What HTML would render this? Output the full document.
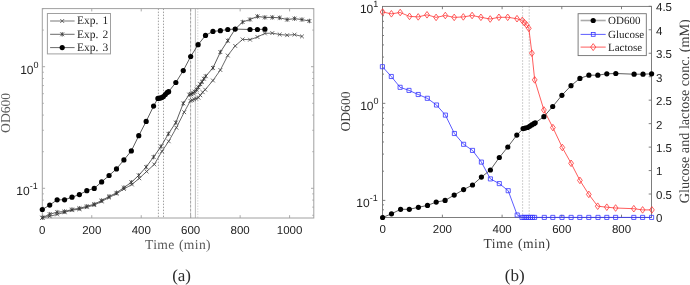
<!DOCTYPE html>
<html><head><meta charset="utf-8"><style>
html,body{margin:0;padding:0;background:#fff;}
body{width:690px;height:285px;overflow:hidden;}
svg{display:block;filter:blur(0.35px);}
text{text-rendering:geometricPrecision;}
.tl{font-family:"Liberation Sans",sans-serif;font-size:11.5px;fill:#222;}
.lab{font-family:"Liberation Serif",serif;font-size:13.6px;fill:#505050;}
.cap{font-family:"Liberation Serif",serif;font-size:17px;fill:#2a2a2a;}
</style></head><body>
<svg width="690" height="285" viewBox="0 0 690 285">
<rect width="690" height="285" fill="#fff"/>
<line x1="158.4" y1="8.6" x2="158.4" y2="218.0" stroke="#8a8a8a" stroke-width="0.8" stroke-dasharray="1.5,1.5"/>
<line x1="163.5" y1="8.6" x2="163.5" y2="218.0" stroke="#8a8a8a" stroke-width="0.8" stroke-dasharray="1.5,1.5"/>
<line x1="190.6" y1="8.6" x2="190.6" y2="218.0" stroke="#8a8a8a" stroke-width="0.8" stroke-dasharray="3,1"/>
<line x1="195.4" y1="8.6" x2="195.4" y2="218.0" stroke="#aaa" stroke-width="0.8" stroke-dasharray="none"/>
<line x1="197.8" y1="8.6" x2="197.8" y2="218.0" stroke="#c0c0c0" stroke-width="0.8" stroke-dasharray="1.2,1.5"/>
<path d="M91.76,218.0v-2.8M91.76,8.6v2.8M141.22,218.0v-2.8M141.22,8.6v2.8M190.68,218.0v-2.8M190.68,8.6v2.8M240.14,218.0v-2.8M240.14,8.6v2.8M289.60,218.0v-2.8M289.60,8.6v2.8M42.3,215.28h1.5M313.8,215.28h-1.5M42.3,207.14h1.5M313.8,207.14h-1.5M42.3,200.08h1.5M313.8,200.08h-1.5M42.3,193.86h1.5M313.8,193.86h-1.5M42.3,188.30h2.8M313.8,188.30h-2.8M42.3,151.69h1.5M313.8,151.69h-1.5M42.3,130.28h1.5M313.8,130.28h-1.5M42.3,115.09h1.5M313.8,115.09h-1.5M42.3,103.31h1.5M313.8,103.31h-1.5M42.3,93.68h1.5M313.8,93.68h-1.5M42.3,85.54h1.5M313.8,85.54h-1.5M42.3,78.48h1.5M313.8,78.48h-1.5M42.3,72.26h1.5M313.8,72.26h-1.5M42.3,66.70h2.8M313.8,66.70h-2.8M42.3,30.09h1.5M313.8,30.09h-1.5M42.3,8.68h1.5M313.8,8.68h-1.5" stroke="#a0a0a0" stroke-width="0.9" fill="none"/>
<rect x="42.3" y="8.6" width="271.50" height="209.40" fill="none" stroke="#a0a0a0" stroke-width="1"/>
<polyline points="42.30,217.70 49.72,216.30 57.14,214.40 64.56,212.30 71.98,210.20 79.39,209.20 86.81,207.20 94.23,205.10 101.65,201.50 109.07,197.50 116.49,193.80 123.91,189.00 131.90,184.50 139.30,178.30 146.60,171.50 154.30,164.40 162.00,151.30 168.70,141.30 176.40,127.70 184.20,112.20 190.40,100.80 192.30,100.20 194.10,99.30 196.00,98.60 198.40,97.70 200.30,95.30 202.70,92.20 205.20,89.70 212.94,80.50 220.36,70.00 227.77,55.50 235.19,45.90 242.61,39.40 250.03,39.70 257.45,37.00 264.87,33.40 272.29,33.10 279.71,34.50 287.13,35.20 294.55,34.60 301.96,36.40" fill="none" stroke="#444" stroke-width="0.8" stroke-linejoin="round" />
<polyline points="42.30,217.70 49.72,214.20 57.14,212.20 64.56,211.50 71.98,209.50 79.39,208.30 86.81,206.30 94.23,204.20 101.65,200.50 109.07,196.50 116.49,192.80 123.91,187.60 131.33,182.30 138.75,175.30 146.17,167.00 153.58,157.00 161.00,146.50 168.42,133.80 175.84,122.60 183.26,103.40 189.20,94.60 191.10,94.00 192.90,93.20 194.70,91.60 196.60,89.70 198.40,87.30 200.30,84.20 202.10,81.80 203.90,78.70 205.80,76.20 212.94,67.90 220.36,52.10 227.77,40.70 235.19,29.10 242.61,22.00 250.03,19.50 257.45,16.40 264.87,17.40 272.29,17.40 279.71,17.80 287.13,19.60 294.55,18.60 301.96,19.60 309.38,21.00" fill="none" stroke="#333" stroke-width="0.8" stroke-linejoin="round" />
<polyline points="42.30,209.50 49.72,205.10 57.14,199.80 64.56,199.80 71.98,197.20 79.39,194.60 86.81,190.70 94.23,188.40 101.65,181.90 109.07,175.50 116.49,168.90 123.91,159.90 131.33,150.90 138.75,135.70 146.17,121.40 153.58,106.10 157.90,98.40 159.70,98.20 161.60,97.60 163.40,96.60 165.30,94.50 167.10,92.60 168.60,91.70 175.84,82.50 183.26,70.60 190.68,56.50 198.10,44.70 205.52,35.40 212.94,31.40 220.36,30.70 227.77,29.50 235.19,29.10 250.03,29.50 257.45,29.50 264.87,29.20" fill="none" stroke="#333" stroke-width="0.8" stroke-linejoin="round" />
<path d="M40.40,215.80L44.20,219.60M40.40,219.60L44.20,215.80M47.82,214.40L51.62,218.20M47.82,218.20L51.62,214.40M55.24,212.50L59.04,216.30M55.24,216.30L59.04,212.50M62.66,210.40L66.46,214.20M62.66,214.20L66.46,210.40M70.08,208.30L73.88,212.10M70.08,212.10L73.88,208.30M77.49,207.30L81.30,211.10M77.49,211.10L81.30,207.30M84.91,205.30L88.71,209.10M84.91,209.10L88.71,205.30M92.33,203.20L96.13,207.00M92.33,207.00L96.13,203.20M99.75,199.60L103.55,203.40M99.75,203.40L103.55,199.60M107.17,195.60L110.97,199.40M107.17,199.40L110.97,195.60M114.59,191.90L118.39,195.70M114.59,195.70L118.39,191.90M122.01,187.10L125.81,190.90M122.01,190.90L125.81,187.10M130.00,182.60L133.80,186.40M130.00,186.40L133.80,182.60M137.40,176.40L141.20,180.20M137.40,180.20L141.20,176.40M144.70,169.60L148.50,173.40M144.70,173.40L148.50,169.60M152.40,162.50L156.20,166.30M152.40,166.30L156.20,162.50M160.10,149.40L163.90,153.20M160.10,153.20L163.90,149.40M166.80,139.40L170.60,143.20M166.80,143.20L170.60,139.40M174.50,125.80L178.30,129.60M174.50,129.60L178.30,125.80M182.30,110.30L186.10,114.10M182.30,114.10L186.10,110.30M188.50,98.90L192.30,102.70M188.50,102.70L192.30,98.90M190.40,98.30L194.20,102.10M190.40,102.10L194.20,98.30M192.20,97.40L196.00,101.20M192.20,101.20L196.00,97.40M194.10,96.70L197.90,100.50M194.10,100.50L197.90,96.70M196.50,95.80L200.30,99.60M196.50,99.60L200.30,95.80M198.40,93.40L202.20,97.20M198.40,97.20L202.20,93.40M200.80,90.30L204.60,94.10M200.80,94.10L204.60,90.30M203.30,87.80L207.10,91.60M203.30,91.60L207.10,87.80M211.04,78.60L214.84,82.40M211.04,82.40L214.84,78.60M218.46,68.10L222.26,71.90M218.46,71.90L222.26,68.10M225.87,53.60L229.67,57.40M225.87,57.40L229.67,53.60M233.29,44.00L237.09,47.80M233.29,47.80L237.09,44.00M240.71,37.50L244.51,41.30M240.71,41.30L244.51,37.50M248.13,37.80L251.93,41.60M248.13,41.60L251.93,37.80M255.55,35.10L259.35,38.90M255.55,38.90L259.35,35.10M262.97,31.50L266.77,35.30M262.97,35.30L266.77,31.50M270.39,31.20L274.19,35.00M270.39,35.00L274.19,31.20M277.81,32.60L281.61,36.40M277.81,36.40L281.61,32.60M285.23,33.30L289.03,37.10M285.23,37.10L289.03,33.30M292.65,32.70L296.45,36.50M292.65,36.50L296.45,32.70M300.06,34.50L303.86,38.30M300.06,38.30L303.86,34.50" stroke="#444" stroke-width="0.8" fill="none"/>
<path d="M40.40,215.80L44.20,219.60M40.40,219.60L44.20,215.80M42.30,215.42V219.98M47.82,212.30L51.62,216.10M47.82,216.10L51.62,212.30M49.72,211.92V216.48M55.24,210.30L59.04,214.10M55.24,214.10L59.04,210.30M57.14,209.92V214.48M62.66,209.60L66.46,213.40M62.66,213.40L66.46,209.60M64.56,209.22V213.78M70.08,207.60L73.88,211.40M70.08,211.40L73.88,207.60M71.98,207.22V211.78M77.49,206.40L81.30,210.20M77.49,210.20L81.30,206.40M79.39,206.02V210.58M84.91,204.40L88.71,208.20M84.91,208.20L88.71,204.40M86.81,204.02V208.58M92.33,202.30L96.13,206.10M92.33,206.10L96.13,202.30M94.23,201.92V206.48M99.75,198.60L103.55,202.40M99.75,202.40L103.55,198.60M101.65,198.22V202.78M107.17,194.60L110.97,198.40M107.17,198.40L110.97,194.60M109.07,194.22V198.78M114.59,190.90L118.39,194.70M114.59,194.70L118.39,190.90M116.49,190.52V195.08M122.01,185.70L125.81,189.50M122.01,189.50L125.81,185.70M123.91,185.32V189.88M129.43,180.40L133.23,184.20M129.43,184.20L133.23,180.40M131.33,180.02V184.58M136.85,173.40L140.65,177.20M136.85,177.20L140.65,173.40M138.75,173.02V177.58M144.27,165.10L148.07,168.90M144.27,168.90L148.07,165.10M146.17,164.72V169.28M151.68,155.10L155.48,158.90M151.68,158.90L155.48,155.10M153.58,154.72V159.28M159.10,144.60L162.90,148.40M159.10,148.40L162.90,144.60M161.00,144.22V148.78M166.52,131.90L170.32,135.70M166.52,135.70L170.32,131.90M168.42,131.52V136.08M173.94,120.70L177.74,124.50M173.94,124.50L177.74,120.70M175.84,120.32V124.88M181.36,101.50L185.16,105.30M181.36,105.30L185.16,101.50M183.26,101.12V105.68M187.30,92.70L191.10,96.50M187.30,96.50L191.10,92.70M189.20,92.32V96.88M189.20,92.10L193.00,95.90M189.20,95.90L193.00,92.10M191.10,91.72V96.28M191.00,91.30L194.80,95.10M191.00,95.10L194.80,91.30M192.90,90.92V95.48M192.80,89.70L196.60,93.50M192.80,93.50L196.60,89.70M194.70,89.32V93.88M194.70,87.80L198.50,91.60M194.70,91.60L198.50,87.80M196.60,87.42V91.98M196.50,85.40L200.30,89.20M196.50,89.20L200.30,85.40M198.40,85.02V89.58M198.40,82.30L202.20,86.10M198.40,86.10L202.20,82.30M200.30,81.92V86.48M200.20,79.90L204.00,83.70M200.20,83.70L204.00,79.90M202.10,79.52V84.08M202.00,76.80L205.80,80.60M202.00,80.60L205.80,76.80M203.90,76.42V80.98M203.90,74.30L207.70,78.10M203.90,78.10L207.70,74.30M205.80,73.92V78.48M211.04,66.00L214.84,69.80M211.04,69.80L214.84,66.00M212.94,65.62V70.18M218.46,50.20L222.26,54.00M218.46,54.00L222.26,50.20M220.36,49.82V54.38M225.87,38.80L229.67,42.60M225.87,42.60L229.67,38.80M227.77,38.42V42.98M233.29,27.20L237.09,31.00M233.29,31.00L237.09,27.20M235.19,26.82V31.38M240.71,20.10L244.51,23.90M240.71,23.90L244.51,20.10M242.61,19.72V24.28M248.13,17.60L251.93,21.40M248.13,21.40L251.93,17.60M250.03,17.22V21.78M255.55,14.50L259.35,18.30M255.55,18.30L259.35,14.50M257.45,14.12V18.68M262.97,15.50L266.77,19.30M262.97,19.30L266.77,15.50M264.87,15.12V19.68M270.39,15.50L274.19,19.30M270.39,19.30L274.19,15.50M272.29,15.12V19.68M277.81,15.90L281.61,19.70M277.81,19.70L281.61,15.90M279.71,15.52V20.08M285.23,17.70L289.03,21.50M285.23,21.50L289.03,17.70M287.13,17.32V21.88M292.65,16.70L296.45,20.50M292.65,20.50L296.45,16.70M294.55,16.32V20.88M300.06,17.70L303.86,21.50M300.06,21.50L303.86,17.70M301.96,17.32V21.88M307.48,19.10L311.28,22.90M307.48,22.90L311.28,19.10M309.38,18.72V23.28" stroke="#333" stroke-width="0.8" fill="none"/>
<circle cx="42.30" cy="209.50" r="2.6" fill="#000"/>
<circle cx="49.72" cy="205.10" r="2.6" fill="#000"/>
<circle cx="57.14" cy="199.80" r="2.6" fill="#000"/>
<circle cx="64.56" cy="199.80" r="2.6" fill="#000"/>
<circle cx="71.98" cy="197.20" r="2.6" fill="#000"/>
<circle cx="79.39" cy="194.60" r="2.6" fill="#000"/>
<circle cx="86.81" cy="190.70" r="2.6" fill="#000"/>
<circle cx="94.23" cy="188.40" r="2.6" fill="#000"/>
<circle cx="101.65" cy="181.90" r="2.6" fill="#000"/>
<circle cx="109.07" cy="175.50" r="2.6" fill="#000"/>
<circle cx="116.49" cy="168.90" r="2.6" fill="#000"/>
<circle cx="123.91" cy="159.90" r="2.6" fill="#000"/>
<circle cx="131.33" cy="150.90" r="2.6" fill="#000"/>
<circle cx="138.75" cy="135.70" r="2.6" fill="#000"/>
<circle cx="146.17" cy="121.40" r="2.6" fill="#000"/>
<circle cx="153.58" cy="106.10" r="2.6" fill="#000"/>
<circle cx="157.90" cy="98.40" r="2.6" fill="#000"/>
<circle cx="159.70" cy="98.20" r="2.6" fill="#000"/>
<circle cx="161.60" cy="97.60" r="2.6" fill="#000"/>
<circle cx="163.40" cy="96.60" r="2.6" fill="#000"/>
<circle cx="165.30" cy="94.50" r="2.6" fill="#000"/>
<circle cx="167.10" cy="92.60" r="2.6" fill="#000"/>
<circle cx="168.60" cy="91.70" r="2.6" fill="#000"/>
<circle cx="175.84" cy="82.50" r="2.6" fill="#000"/>
<circle cx="183.26" cy="70.60" r="2.6" fill="#000"/>
<circle cx="190.68" cy="56.50" r="2.6" fill="#000"/>
<circle cx="198.10" cy="44.70" r="2.6" fill="#000"/>
<circle cx="205.52" cy="35.40" r="2.6" fill="#000"/>
<circle cx="212.94" cy="31.40" r="2.6" fill="#000"/>
<circle cx="220.36" cy="30.70" r="2.6" fill="#000"/>
<circle cx="227.77" cy="29.50" r="2.6" fill="#000"/>
<circle cx="235.19" cy="29.10" r="2.6" fill="#000"/>
<circle cx="250.03" cy="29.50" r="2.6" fill="#000"/>
<circle cx="257.45" cy="29.50" r="2.6" fill="#000"/>
<circle cx="264.87" cy="29.20" r="2.6" fill="#000"/>
<rect x="47.4" y="13.5" width="63.1" height="40.4" fill="#fff" stroke="#a0a0a0" stroke-width="1"/>
<line x1="50.1" y1="21.0" x2="74.6" y2="21.0" stroke="#aaa" stroke-width="1.6"/>
<path d="M60.30,19.10L64.10,22.90M60.30,22.90L64.10,19.10" stroke="#444" stroke-width="0.8"/>
<text x="77.0" y="24.30" font-family="Liberation Serif" font-size="11.5" fill="#222" word-spacing="1.2">Exp. 1</text>
<line x1="50.1" y1="34.3" x2="74.6" y2="34.3" stroke="#444" stroke-width="0.8"/>
<path d="M60.30,32.40L64.10,36.20M60.30,36.20L64.10,32.40M62.20,32.02V36.58" stroke="#333" stroke-width="0.8"/>
<text x="77.0" y="37.60" font-family="Liberation Serif" font-size="11.5" fill="#222" word-spacing="1.2">Exp. 2</text>
<line x1="50.1" y1="47.6" x2="74.6" y2="47.6" stroke="#444" stroke-width="0.8"/>
<circle cx="62.2" cy="47.6" r="2.6" fill="#000"/>
<text x="77.0" y="50.90" font-family="Liberation Serif" font-size="11.5" fill="#222" word-spacing="1.2">Exp. 3</text>
<text x="42.30" y="233.8" text-anchor="middle" class="tl">0</text>
<text x="91.76" y="233.8" text-anchor="middle" class="tl">200</text>
<text x="141.22" y="233.8" text-anchor="middle" class="tl">400</text>
<text x="190.68" y="233.8" text-anchor="middle" class="tl">600</text>
<text x="240.14" y="233.8" text-anchor="middle" class="tl">800</text>
<text x="289.60" y="233.8" text-anchor="middle" class="tl">1000</text>
<text x="38.50" y="73.60" text-anchor="end" class="tl" style="font-size:12px">10<tspan dy="-5.6" style="font-size:9px">0</tspan></text>
<text x="37.70" y="194.60" text-anchor="end" class="tl" style="font-size:12px">10<tspan dy="-5.6" style="font-size:9px">-1</tspan></text>
<text x="178.0" y="248.8" text-anchor="middle" class="lab" style="letter-spacing:0.35px;word-spacing:0.6px;fill:#5a5a5a">Time (min)</text>
<text transform="translate(9.6,112.9) rotate(-90)" text-anchor="middle" class="lab" style="fill:#5a5a5a">OD600</text>
<text x="181.6" y="281.2" text-anchor="middle" class="cap">(a)</text>
<line x1="522.6" y1="6.4" x2="522.6" y2="217.5" stroke="#aaa" stroke-width="0.9" stroke-dasharray="1.2,1.8"/>
<line x1="529.2" y1="6.4" x2="529.2" y2="217.5" stroke="#aaa" stroke-width="0.9" stroke-dasharray="1.2,1.8"/>
<path d="M442.40,217.5v-2.8M442.40,6.4v2.8M502.10,217.5v-2.8M502.10,6.4v2.8M561.80,217.5v-2.8M561.80,6.4v2.8M621.50,217.5v-2.8M621.50,6.4v2.8M382.5,215.43h1.5M382.5,209.81h1.5M382.5,204.84h1.5M382.5,200.40h2.8M382.5,171.19h1.5M382.5,154.10h1.5M382.5,141.97h1.5M382.5,132.56h1.5M382.5,124.88h1.5M382.5,118.38h1.5M382.5,112.76h1.5M382.5,107.79h1.5M382.5,103.35h2.8M382.5,74.14h1.5M382.5,57.05h1.5M382.5,44.92h1.5M382.5,35.51h1.5M382.5,27.83h1.5M382.5,21.33h1.5M382.5,15.71h1.5M382.5,10.74h1.5M651.5,217.50h-2.8M651.5,194.03h-2.8M651.5,170.57h-2.8M651.5,147.11h-2.8M651.5,123.64h-2.8M651.5,100.17h-2.8M651.5,76.71h-2.8M651.5,53.25h-2.8M651.5,29.78h-2.8M651.5,6.31h-2.8" stroke="#707070" stroke-width="0.9" fill="none"/>
<rect x="382.5" y="6.4" width="269.00" height="211.10" fill="none" stroke="#707070" stroke-width="0.9"/>
<polyline points="382.60,12.00 391.40,13.80 400.20,12.50 409.50,16.40 418.20,16.90 427.00,14.80 436.10,17.40 445.30,15.50 454.20,17.40 463.30,16.90 472.10,15.50 480.90,17.30 490.20,19.00 498.90,17.30 507.70,17.30 517.00,18.70 522.30,20.40 524.40,22.70 526.50,24.80 528.80,28.30 531.90,53.20 534.70,79.90 543.90,110.00 552.90,127.60 562.30,147.50 571.10,163.30 579.90,180.40 588.80,194.40 597.70,206.20 606.80,207.20 615.60,208.00 633.80,208.70 642.60,209.90 651.90,209.90" fill="none" stroke="#ff3333" stroke-width="0.8" stroke-linejoin="round" />
<polyline points="382.40,66.70 391.30,76.50 400.10,87.30 409.00,90.40 418.20,94.50 427.30,98.30 436.50,105.00 445.40,115.10 454.40,133.50 463.60,144.30 472.50,150.40 481.40,162.10 490.40,178.90 499.30,183.60 508.20,190.70 517.20,215.00 522.00,217.40 524.10,217.40 526.20,217.40 528.30,217.40 530.40,217.40 532.50,217.40 534.60,217.40 544.30,217.40 552.80,217.40 562.00,217.40 571.10,217.40 579.80,217.40 588.80,217.40 598.00,217.40 606.80,217.40 615.60,217.40 633.80,217.40 642.60,217.40 651.60,217.40" fill="none" stroke="#3333ff" stroke-width="0.8" stroke-linejoin="round" />
<polyline points="382.60,217.50 391.50,213.80 400.60,209.30 409.30,209.30 418.40,207.30 427.50,205.40 436.20,202.10 445.10,200.40 454.20,195.10 463.60,189.60 472.50,185.00 481.40,177.10 490.40,170.00 499.30,157.50 507.80,147.00 516.80,135.10 523.10,128.60 525.20,128.10 527.50,127.50 529.60,126.30 531.70,124.90 533.90,123.70 535.20,122.80 543.90,116.70 552.70,106.50 561.90,95.30 571.00,85.70 579.90,78.40 588.90,75.20 597.80,75.20 606.80,73.80 615.80,73.50 634.10,74.20 643.00,74.20 651.60,73.80" fill="none" stroke="#333" stroke-width="0.8" stroke-linejoin="round" />
<path d="M382.60,8.70L385.00,12.00L382.60,15.30L380.20,12.00ZM391.40,10.50L393.80,13.80L391.40,17.10L389.00,13.80ZM400.20,9.20L402.60,12.50L400.20,15.80L397.80,12.50ZM409.50,13.10L411.90,16.40L409.50,19.70L407.10,16.40ZM418.20,13.60L420.60,16.90L418.20,20.20L415.80,16.90ZM427.00,11.50L429.40,14.80L427.00,18.10L424.60,14.80ZM436.10,14.10L438.50,17.40L436.10,20.70L433.70,17.40ZM445.30,12.20L447.70,15.50L445.30,18.80L442.90,15.50ZM454.20,14.10L456.60,17.40L454.20,20.70L451.80,17.40ZM463.30,13.60L465.70,16.90L463.30,20.20L460.90,16.90ZM472.10,12.20L474.50,15.50L472.10,18.80L469.70,15.50ZM480.90,14.00L483.30,17.30L480.90,20.60L478.50,17.30ZM490.20,15.70L492.60,19.00L490.20,22.30L487.80,19.00ZM498.90,14.00L501.30,17.30L498.90,20.60L496.50,17.30ZM507.70,14.00L510.10,17.30L507.70,20.60L505.30,17.30ZM517.00,15.40L519.40,18.70L517.00,22.00L514.60,18.70ZM522.30,17.10L524.70,20.40L522.30,23.70L519.90,20.40ZM524.40,19.40L526.80,22.70L524.40,26.00L522.00,22.70ZM526.50,21.50L528.90,24.80L526.50,28.10L524.10,24.80ZM528.80,25.00L531.20,28.30L528.80,31.60L526.40,28.30ZM531.90,49.90L534.30,53.20L531.90,56.50L529.50,53.20ZM534.70,76.60L537.10,79.90L534.70,83.20L532.30,79.90ZM543.90,106.70L546.30,110.00L543.90,113.30L541.50,110.00ZM552.90,124.30L555.30,127.60L552.90,130.90L550.50,127.60ZM562.30,144.20L564.70,147.50L562.30,150.80L559.90,147.50ZM571.10,160.00L573.50,163.30L571.10,166.60L568.70,163.30ZM579.90,177.10L582.30,180.40L579.90,183.70L577.50,180.40ZM588.80,191.10L591.20,194.40L588.80,197.70L586.40,194.40ZM597.70,202.90L600.10,206.20L597.70,209.50L595.30,206.20ZM606.80,203.90L609.20,207.20L606.80,210.50L604.40,207.20ZM615.60,204.70L618.00,208.00L615.60,211.30L613.20,208.00ZM633.80,205.40L636.20,208.70L633.80,212.00L631.40,208.70ZM642.60,206.60L645.00,209.90L642.60,213.20L640.20,209.90ZM651.90,206.60L654.30,209.90L651.90,213.20L649.50,209.90Z" stroke="#ff3333" stroke-width="0.8" fill="none"/>
<path d="M380.35,64.65h4.1v4.1h-4.1ZM389.25,74.45h4.1v4.1h-4.1ZM398.05,85.25h4.1v4.1h-4.1ZM406.95,88.35h4.1v4.1h-4.1ZM416.15,92.45h4.1v4.1h-4.1ZM425.25,96.25h4.1v4.1h-4.1ZM434.45,102.95h4.1v4.1h-4.1ZM443.35,113.05h4.1v4.1h-4.1ZM452.35,131.45h4.1v4.1h-4.1ZM461.55,142.25h4.1v4.1h-4.1ZM470.45,148.35h4.1v4.1h-4.1ZM479.35,160.05h4.1v4.1h-4.1ZM488.35,176.85h4.1v4.1h-4.1ZM497.25,181.55h4.1v4.1h-4.1ZM506.15,188.65h4.1v4.1h-4.1ZM515.15,212.95h4.1v4.1h-4.1ZM519.95,215.35h4.1v4.1h-4.1ZM522.05,215.35h4.1v4.1h-4.1ZM524.15,215.35h4.1v4.1h-4.1ZM526.25,215.35h4.1v4.1h-4.1ZM528.35,215.35h4.1v4.1h-4.1ZM530.45,215.35h4.1v4.1h-4.1ZM532.55,215.35h4.1v4.1h-4.1ZM542.25,215.35h4.1v4.1h-4.1ZM550.75,215.35h4.1v4.1h-4.1ZM559.95,215.35h4.1v4.1h-4.1ZM569.05,215.35h4.1v4.1h-4.1ZM577.75,215.35h4.1v4.1h-4.1ZM586.75,215.35h4.1v4.1h-4.1ZM595.95,215.35h4.1v4.1h-4.1ZM604.75,215.35h4.1v4.1h-4.1ZM613.55,215.35h4.1v4.1h-4.1ZM631.75,215.35h4.1v4.1h-4.1ZM640.55,215.35h4.1v4.1h-4.1ZM649.55,215.35h4.1v4.1h-4.1Z" stroke="#3333ff" stroke-width="0.8" fill="none"/>
<circle cx="382.60" cy="217.50" r="2.6" fill="#000"/>
<circle cx="391.50" cy="213.80" r="2.6" fill="#000"/>
<circle cx="400.60" cy="209.30" r="2.6" fill="#000"/>
<circle cx="409.30" cy="209.30" r="2.6" fill="#000"/>
<circle cx="418.40" cy="207.30" r="2.6" fill="#000"/>
<circle cx="427.50" cy="205.40" r="2.6" fill="#000"/>
<circle cx="436.20" cy="202.10" r="2.6" fill="#000"/>
<circle cx="445.10" cy="200.40" r="2.6" fill="#000"/>
<circle cx="454.20" cy="195.10" r="2.6" fill="#000"/>
<circle cx="463.60" cy="189.60" r="2.6" fill="#000"/>
<circle cx="472.50" cy="185.00" r="2.6" fill="#000"/>
<circle cx="481.40" cy="177.10" r="2.6" fill="#000"/>
<circle cx="490.40" cy="170.00" r="2.6" fill="#000"/>
<circle cx="499.30" cy="157.50" r="2.6" fill="#000"/>
<circle cx="507.80" cy="147.00" r="2.6" fill="#000"/>
<circle cx="516.80" cy="135.10" r="2.6" fill="#000"/>
<circle cx="523.10" cy="128.60" r="2.6" fill="#000"/>
<circle cx="525.20" cy="128.10" r="2.6" fill="#000"/>
<circle cx="527.50" cy="127.50" r="2.6" fill="#000"/>
<circle cx="529.60" cy="126.30" r="2.6" fill="#000"/>
<circle cx="531.70" cy="124.90" r="2.6" fill="#000"/>
<circle cx="533.90" cy="123.70" r="2.6" fill="#000"/>
<circle cx="535.20" cy="122.80" r="2.6" fill="#000"/>
<circle cx="543.90" cy="116.70" r="2.6" fill="#000"/>
<circle cx="552.70" cy="106.50" r="2.6" fill="#000"/>
<circle cx="561.90" cy="95.30" r="2.6" fill="#000"/>
<circle cx="571.00" cy="85.70" r="2.6" fill="#000"/>
<circle cx="579.90" cy="78.40" r="2.6" fill="#000"/>
<circle cx="588.90" cy="75.20" r="2.6" fill="#000"/>
<circle cx="597.80" cy="75.20" r="2.6" fill="#000"/>
<circle cx="606.80" cy="73.80" r="2.6" fill="#000"/>
<circle cx="615.80" cy="73.50" r="2.6" fill="#000"/>
<circle cx="634.10" cy="74.20" r="2.6" fill="#000"/>
<circle cx="643.00" cy="74.20" r="2.6" fill="#000"/>
<circle cx="651.60" cy="73.80" r="2.6" fill="#000"/>
<rect x="578.1" y="13.7" width="68.2" height="41.9" fill="#fff" stroke="#707070" stroke-width="0.9"/>
<line x1="580.6" y1="20.5" x2="605.7" y2="20.5" stroke="#aaa" stroke-width="1.6"/>
<circle cx="593.2" cy="20.5" r="2.6" fill="#000"/>
<text x="608" y="24.10" font-family="Liberation Serif" font-size="11" fill="#222">OD600</text>
<line x1="580.6" y1="34.4" x2="605.7" y2="34.4" stroke="#3333ff" stroke-width="0.8"/>
<rect x="591.3000000000001" y="32.5" width="3.8" height="3.8" fill="none" stroke="#3333ff" stroke-width="0.8"/>
<text x="608" y="38.00" font-family="Liberation Serif" font-size="11" fill="#222">Glucose</text>
<line x1="580.6" y1="47.1" x2="605.7" y2="47.1" stroke="#ff3333" stroke-width="0.8"/>
<path d="M593.2,43.6L595.8,47.1L593.2,50.6L590.6,47.1Z" fill="none" stroke="#ff3333" stroke-width="0.8"/>
<text x="608" y="50.70" font-family="Liberation Serif" font-size="11" fill="#222">Lactose</text>
<text x="382.70" y="233.2" text-anchor="middle" class="tl">0</text>
<text x="442.40" y="233.2" text-anchor="middle" class="tl">200</text>
<text x="502.10" y="233.2" text-anchor="middle" class="tl">400</text>
<text x="561.80" y="233.2" text-anchor="middle" class="tl">600</text>
<text x="621.50" y="233.2" text-anchor="middle" class="tl">800</text>
<text x="378.30" y="12.80" text-anchor="end" class="tl" style="font-size:12px">10<tspan dy="-5.6" style="font-size:9px">1</tspan></text>
<text x="378.50" y="109.80" text-anchor="end" class="tl" style="font-size:12px">10<tspan dy="-5.6" style="font-size:9px">0</tspan></text>
<text x="377.70" y="206.70" text-anchor="end" class="tl" style="font-size:12px">10<tspan dy="-5.6" style="font-size:9px">-1</tspan></text>
<text x="656.0" y="222.40" class="tl">0</text>
<text x="656.0" y="198.94" class="tl">0.5</text>
<text x="656.0" y="175.47" class="tl">1</text>
<text x="656.0" y="152.01" class="tl">1.5</text>
<text x="656.0" y="128.54" class="tl">2</text>
<text x="656.0" y="105.08" class="tl">2.5</text>
<text x="656.0" y="81.61" class="tl">3</text>
<text x="656.0" y="58.15" class="tl">3.5</text>
<text x="656.0" y="34.68" class="tl">4</text>
<text x="656.0" y="11.21" class="tl">4.5</text>
<text x="517.0" y="247.9" text-anchor="middle" class="lab" style="letter-spacing:0.45px;word-spacing:0.8px;fill:#3c3c3c">Time (min)</text>
<text transform="translate(349.8,111.5) rotate(-90)" text-anchor="middle" class="lab" style="fill:#3c3c3c">OD600</text>
<text transform="translate(688.6,111.2) rotate(-90)" text-anchor="middle" class="lab" style="font-size:14.2px;fill:#3c3c3c">Glucose and lactose conc. (mM)</text>
<text x="514.7" y="281.2" text-anchor="middle" class="cap">(b)</text>
</svg>
</body></html>
